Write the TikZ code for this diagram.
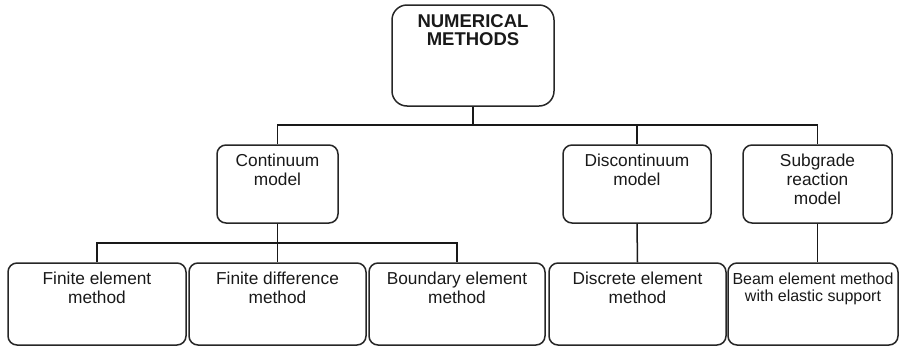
\documentclass[tikz,border=0pt]{standalone}
\usepackage{fontspec}
\setmainfont{Liberation Sans}
\begin{document}
\begin{tikzpicture}[x=1pt,y=-1pt,
  box/.style={draw=black!85, line width=1.5pt, rounded corners=9pt, inner sep=0pt, minimum height=82pt},
  txt/.style={font=\fontsize{17.3}{19}\selectfont, align=center, anchor=north, inner sep=0pt, text=black!90},
  conn/.style={draw=black!90, line width=1.5pt}]
\useasboundingbox (0,0) rectangle (900,346);
% boxes
\node[box, rounded corners=15pt, minimum width=162pt, minimum height=101pt] (top) at (473,55.5) {};
\node[box, minimum width=121pt, minimum height=78pt] (cont) at (277.5,184) {};
\node[box, minimum width=148pt, minimum height=78pt] (disc) at (637,184) {};
\node[box, minimum width=149pt, minimum height=78pt] (sub) at (817.5,184) {};
\node[box, minimum width=178pt] (fe) at (97,304) {};
\node[box, minimum width=177pt] (fd) at (277.5,304) {};
\node[box, minimum width=176pt] (be) at (457,304) {};
\node[box, minimum width=177pt] (de) at (637.5,304) {};
\node[box, minimum width=170pt] (bm) at (813,304) {};
% texts
\node[txt, font=\fontsize{18.5}{18}\selectfont\bfseries] (ttop) at ([yshift=-10pt]top.north) {NUMERICAL\\METHODS};
\node[txt] (tcont) at ([yshift=-10pt]cont.north) {Continuum\\model};
\node[txt] (tdisc) at ([yshift=-10pt]disc.north) {Discontinuum\\model};
\node[txt] (tsub) at ([yshift=-10pt]sub.north) {Subgrade\\reaction\\model};
\node[txt] (tfe) at ([yshift=-10pt]fe.north) {Finite element\\method};
\node[txt] (tfd) at ([yshift=-10pt]fd.north) {Finite difference\\method};
\node[txt] (tbe) at ([yshift=-10pt]be.north) {Boundary element\\method};
\node[txt] (tde) at ([yshift=-10pt]de.north) {Discrete element\\method};
\node[txt, font=\fontsize{16}{17.5}\selectfont] (tbm) at ([yshift=-10pt]bm.north) {Beam element method\\with elastic support};
% junctions
\coordinate (j1) at (top.south |- 0,125);
\coordinate (j2) at (cont.south |- 0,243);
% connectors
\draw[conn] (top.south) -- (j1);
\draw[conn] (cont.north) |- (j1) -| (sub.north);
\draw[conn] (disc.north) -- (disc.north |- j1);
\draw[conn] (cont.south) -- (fd.north);
\draw[conn] (fe.north) |- (j2) -| (be.north);
\draw[conn] (disc.south) -- (de.north);
\draw[conn] (sub.south) -- (sub.south |- bm.north);
\end{tikzpicture}
\end{document}
